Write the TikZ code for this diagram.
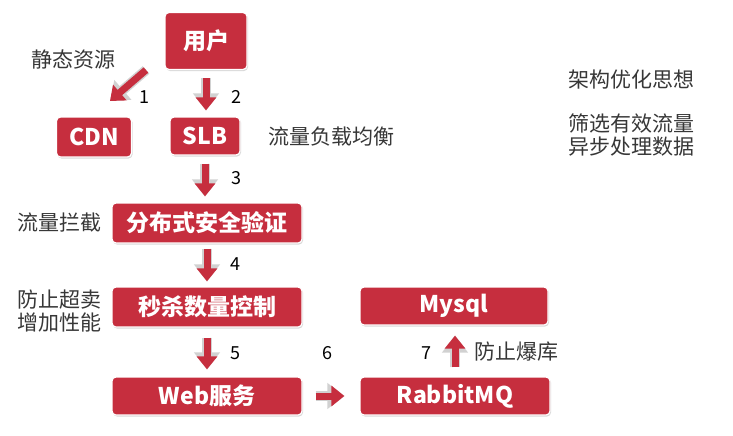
\documentclass[tikz,border=0pt]{standalone}
\usepackage{fontspec}
\setmainfont{Noto Sans CJK SC}
\usetikzlibrary{arrows.meta,shadows,calc}
\definecolor{boxred}{RGB}{198,46,62}
\definecolor{txt}{RGB}{55,55,55}
\begin{document}
\begin{tikzpicture}[x=1pt,y=-1pt,
 box/.style={draw=white, line width=1.2pt, fill=boxred, rounded corners=4pt, text=white,
   font=\fontsize{23}{26}\selectfont\bfseries, inner sep=0pt,
   drop shadow={opacity=0.3, shadow xshift=1pt, shadow yshift=-1.5pt}},
 lab/.style={text=txt, font=\fontsize{21}{23}\selectfont, inner sep=0pt, align=center},
 num/.style={text=black, font=\fontsize{18}{20}\selectfont, inner sep=0pt},
 barrow/.style={draw=boxred, line width=7pt, -{Triangle[width=20pt,length=13pt]},
   preaction={draw=black!18, line width=10pt, -{Triangle[width=25pt,length=17pt]}}}
]
\fill[white] (0,0) rectangle (733,436);
\useasboundingbox (0,0) rectangle (733,436);

\node[box, minimum width=82pt, minimum height=57pt] (user) at (206,41) {用户};
\node[box, minimum width=75pt, minimum height=40pt] (cdn) at (94,137) {CDN};
\node[box, minimum width=70pt, minimum height=38pt] (slb) at (205,136) {SLB};
\node[box, minimum width=190pt, minimum height=40pt] (auth) at (207,223) {分布式安全验证};
\node[box, minimum width=190pt, minimum height=40pt] (ctrl) at (207,307) {秒杀数量控制};
\node[box, minimum width=190pt, minimum height=38pt] (web) at (207,396) {Web服务};
\node[box, minimum width=188pt, minimum height=38pt] (mysql) at (454,306) {Mysql};
\node[box, minimum width=190pt, minimum height=38pt] (mq) at (455,396) {RabbitMQ};

\node[lab] (l1) at (73,59) {静态资源};
\node[lab] (l2) at (331,137) {流量负载均衡};
\node[lab] (l3) at (59,223) {流量拦截};
\node[lab] (l4) at (59,311) {防止超卖\\增加性能};
\node[lab] (l5) at (631,80) {架构优化思想};
\node[lab] (l6) at (631,135) {筛选有效流量\\异步处理数据};
\node[lab] (l7) at (516,352) {防止爆库};

\node[num] (n1) at (144,97) {1};
\node[num] (n2) at (236,97) {2};
\node[num] (n3) at (236,178) {3};
\node[num] (n4) at (235,264) {4};
\node[num] (n5) at (235,353) {5};
\node[num] (n6) at (327,353) {6};
\node[num] (n7) at (426,353) {7};

\coordinate (a1s) at (146,70);
\coordinate (a1e) at (110,101);
\draw[barrow] (a1s) -- (a1e);
\draw[barrow, shorten <=8pt, shorten >=6pt] (user.south) -- (user.south |- slb.north);
\draw[barrow, shorten <=8pt, shorten >=6pt] (slb.south) -- (slb.south |- auth.north);
\draw[barrow, shorten <=5pt, shorten >=5pt] (auth.south) -- (ctrl.north);
\draw[barrow, shorten <=10pt, shorten >=7pt] (ctrl.south) -- (web.north);
\draw[barrow, shorten <=13pt, shorten >=15pt] (web.east) -- (mq.west);
\draw[barrow, shorten <=9pt, shorten >=10pt] (mq.north) -- (mq.north |- mysql.south);
\end{tikzpicture}
\end{document}
